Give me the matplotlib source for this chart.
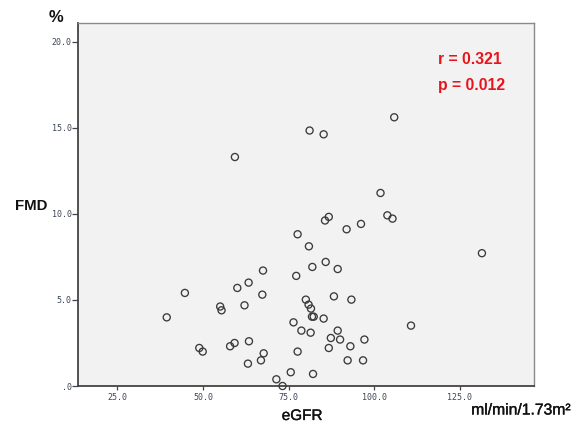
import matplotlib
matplotlib.use("Agg")
import matplotlib.pyplot as plt
import matplotlib.patheffects as pe

# eGFR (ml/min/1.73m2) and FMD (%) per subject
egfr = [59.3, 81.1, 85.2, 105.8, 101.8, 39.4, 44.7, 48.9, 49.9, 55.0,
        55.4, 57.9, 59.2, 60.0, 62.1, 63.3, 63.4, 63.1, 67.3, 67.5,
        66.9, 67.7, 71.4, 73.2, 75.6, 76.4, 77.2, 77.6, 77.6, 86.7,
        85.6, 103.8, 105.3, 91.9, 96.1, 80.9, 131.4, 85.8, 81.9, 89.3,
        80.0, 88.2, 93.3, 80.8, 81.5, 81.8, 82.3, 85.2, 110.7, 78.7,
        81.4, 89.3, 87.3, 90.0, 97.1, 86.7, 93.0, 92.2, 96.7, 82.1]
fmd = [13.31, 14.85, 14.63, 15.62, 11.22, 3.99, 5.41, 2.21, 2.00, 4.62,
       4.40, 2.31, 2.50, 5.70, 4.69, 6.01, 2.60, 1.30, 5.31, 6.71,
       1.49, 1.90, 0.39, 0.00, 0.80, 3.70, 6.40, 8.82, 2.00, 9.83,
       9.62, 9.92, 9.73, 9.11, 9.42, 8.12, 7.72, 7.21, 6.92, 6.80,
       5.02, 5.21, 5.02, 4.73, 4.50, 4.03, 4.03, 3.92, 3.51, 3.22,
       3.10, 3.22, 2.79, 2.70, 2.70, 2.21, 2.31, 1.49, 1.49, 0.70]

x_ticks = [25.0, 50.0, 75.0, 100.0, 125.0]
x_ticklabels = ["25.0", "50.0", "75.0", "100.0", "125.0"]
y_ticks = [0.0, 5.0, 10.0, 15.0, 20.0]
y_ticklabels = [".0", "5.0", "10.0", "15.0", "20.0"]

stats_lines = ["r = 0.321", "p = 0.012"]

W, H = 579, 430
fig = plt.figure(figsize=(W / 100, H / 100), dpi=100)
fig.patch.set_facecolor("white")


def px(x, y):
    return x / W, 1 - y / H


left, top, right, bottom = 78, 23, 534, 386
ax = fig.add_axes([left / W, 1 - bottom / H, (right - left) / W, (bottom - top) / H])
ax.set_facecolor("#f2f2f2")

ax.scatter(egfr, fmd, s=26, facecolors="none", edgecolors="#3a3a3a",
           linewidths=0.95, zorder=3, clip_on=False)

ax.set_xlim(13.5, 146.6)
ax.set_ylim(0, 21.1)

ax.set_xticks(x_ticks)
ax.set_xticklabels(x_ticklabels)
ax.set_yticks(y_ticks)
ax.set_yticklabels(y_ticklabels)
ax.tick_params(axis="both", direction="out", width=0.9,
               color="#444444", labelcolor="#3c4656", labelsize=6)
ax.tick_params(axis="y", length=4, pad=0.5)
ax.tick_params(axis="x", length=3.2, pad=1.8)
for lab in ax.get_xticklabels() + ax.get_yticklabels():
    lab.set_family("DejaVu Sans Mono")

for side in ("left", "bottom"):
    ax.spines[side].set_color("#444444")
    ax.spines[side].set_linewidth(1.3)
for side in ("top", "right"):
    ax.spines[side].set_color("#8a8a8a")
    ax.spines[side].set_linewidth(1.0)

label_font = dict(family="Liberation Sans", color="#111111")
heavier = [pe.withStroke(linewidth=0.25, foreground="#111111")]
fig.text(*px(56, 18), "%", fontsize=12, fontweight="bold",
         ha="center", va="center", **label_font)
fig.text(*px(31, 206), "FMD", fontsize=10.8, fontweight="bold",
         ha="center", va="center", **label_font)
fig.text(*px(302, 416), "eGFR", fontsize=11, ha="center", va="center",
         path_effects=heavier, **label_font)
fig.text(*px(521, 410), "ml/min/1.73m\u00b2", fontsize=11.3, ha="center",
         va="center", path_effects=heavier, **label_font)

for i, line in enumerate(stats_lines):
    fig.text(*px(438, 64 + i * 26), line, fontsize=11.3, fontweight="bold",
             color="#e8141c", family="Liberation Sans", ha="left",
             va="baseline")

fig.savefig("out.png", dpi=100)
